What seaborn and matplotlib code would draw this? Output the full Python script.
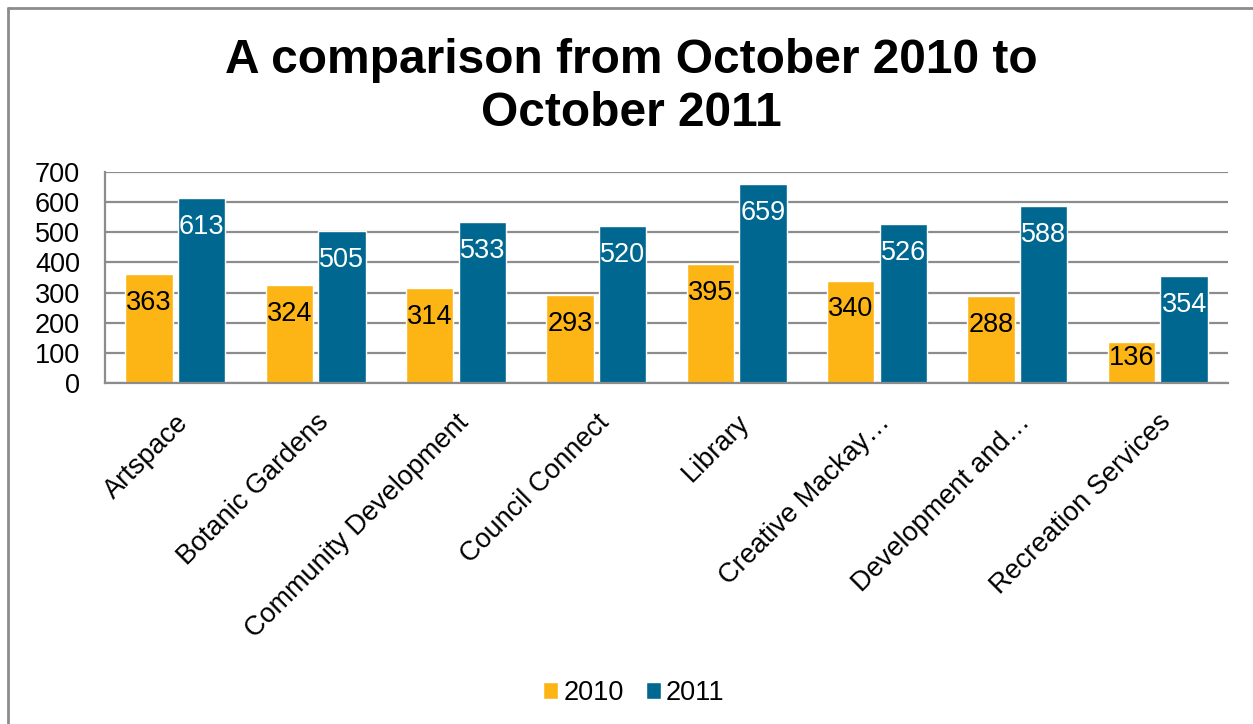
import matplotlib
matplotlib.use("Agg")
import matplotlib.pyplot as plt
import pandas as pd
import seaborn as sns
from matplotlib.lines import Line2D

categories = ["Artspace", "Botanic Gardens", "Community Development", "Council Connect",
              "Library", "Creative Mackay…", "Development and…", "Recreation Services"]
values_2010 = [363, 324, 314, 293, 395, 340, 288, 136]
values_2011 = [613, 505, 533, 520, 659, 526, 588, 354]
years = ["2010", "2011"]

df = pd.DataFrame({
    "category": categories * 2,
    "year": [years[0]] * len(categories) + [years[1]] * len(categories),
    "value": values_2010 + values_2011,
})

sns.set_style("white")
plt.rcParams["font.family"] = ["Liberation Sans", "DejaVu Sans"]
plt.rcParams["text.color"] = "black"
plt.rcParams["xtick.color"] = "black"
plt.rcParams["ytick.color"] = "black"

colors = {"2010": "#FDB515", "2011": "#006890"}

fig = plt.figure(figsize=(12.53, 7.24), dpi=100)
ax = fig.add_axes([105 / 1253, 1 - 383 / 724, (1228 - 105) / 1253, (383 - 172) / 724])

sns.barplot(data=df, x="category", y="value", hue="year", palette=colors,
            width=0.75, gap=0.1, saturation=1, ax=ax, legend=True)

ax.set_ylim(0, 700)
ax.set_yticks(range(0, 701, 100))
ax.yaxis.grid(True, color="#8c8c8c", linewidth=1.6)
ax.set_axisbelow(True)
ax.set_xlabel("")
ax.set_ylabel("")
for side in ["top", "right"]:
    ax.spines[side].set_visible(False)
for side in ["left", "bottom"]:
    ax.spines[side].set_color("#8c8c8c")
    ax.spines[side].set_linewidth(1.6)
ax.tick_params(axis="y", labelsize=19.5, length=0, pad=18)
ax.tick_params(axis="x", labelsize=19.5, length=0, pad=19)
plt.setp(ax.get_xticklabels(), rotation=45, ha="right", rotation_mode="anchor")

# value labels inside bar ends
for cont, col in zip(ax.containers, ["black", "white"]):
    for rect in cont:
        v = rect.get_height()
        y = max(v - 96, v * 0.6)
        ax.text(rect.get_x() + rect.get_width() / 2, y, f"{int(round(v))}",
                ha="center", va="center", fontsize=19.5, color=col)

ax.legend(loc="center", bbox_to_anchor=(0.471, -1.47), ncol=2, frameon=False,
          fontsize=19.5, handlelength=0.55, handleheight=0.55, handletextpad=0.2,
          columnspacing=0.8)

fig.text(0.504, 1 - 87 / 724, "A comparison from October 2010 to\nOctober 2011",
         ha="center", va="center", fontsize=34.5, fontweight="bold", linespacing=1.22)

# outer chart border
fig.add_artist(Line2D([7.5 / 1253, 7.5 / 1253], [0, 1 - 8 / 724], color="#8c8c8c", lw=2,
                      transform=fig.transFigure))
fig.add_artist(Line2D([7.5 / 1253, 1], [1 - 8 / 724, 1 - 8 / 724], color="#8c8c8c", lw=2,
                      transform=fig.transFigure))

fig.savefig("out.png", dpi=100)
